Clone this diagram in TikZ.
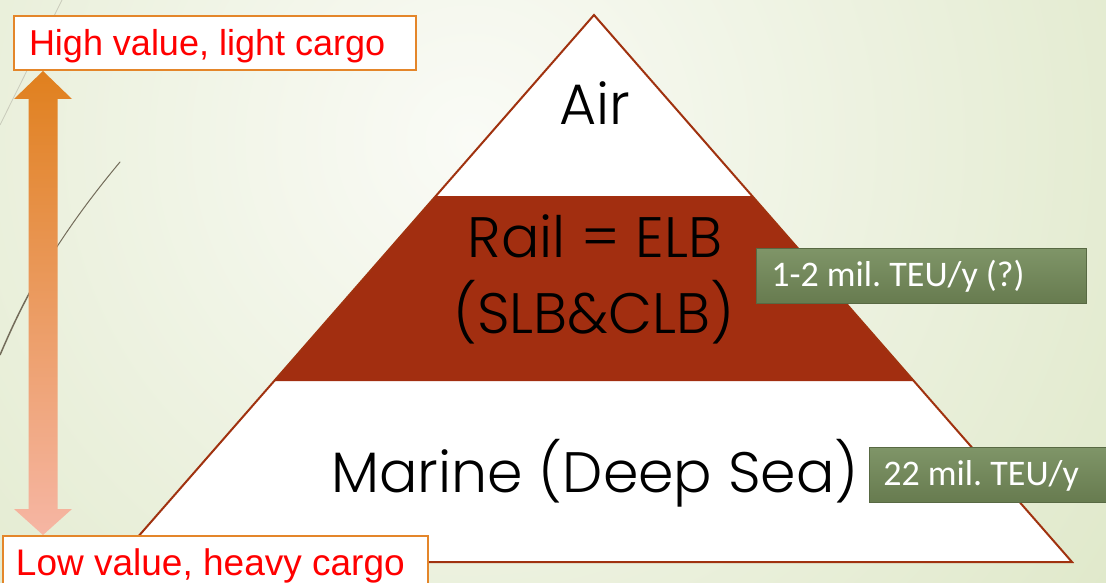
\documentclass[tikz,border=0pt]{standalone}
\usepackage{fontspec}
\setmainfont{Liberation Sans}
\newfontfamily\gothic{Poppins Light}
\newfontfamily\calib{Carlito}
\usetikzlibrary{calc}

\definecolor{bgin}{HTML}{FAFBF6}
\definecolor{bgout}{HTML}{DCE6C4}
\definecolor{rust}{HTML}{A22E10}
\definecolor{edgebrown}{HTML}{A0320F}
\definecolor{olivetop}{HTML}{7F9568}
\definecolor{olivebot}{HTML}{677B4F}
\definecolor{tagline}{HTML}{E4862A}
\definecolor{arrtop}{HTML}{E0801E}
\definecolor{arrbot}{HTML}{F6B6A4}
\definecolor{grass}{HTML}{736C5A}
\definecolor{grassfaint}{HTML}{C9CBBB}

\tikzset{
  tier/.style={font=\gothic\fontsize{57}{60}\selectfont, inner sep=0pt, text=black},
  tagbox/.style={top color=olivetop, bottom color=olivebot, draw=olivebot!85!black,
    line width=0.6pt, text=white, font=\calib\fontsize{36}{40}\selectfont,
    minimum height=55pt, text height=25.2pt, text depth=3.6pt,
    inner xsep=15pt, inner ysep=0pt},
  cargo/.style={draw=tagline, line width=2pt, fill=white, text=red,
    font=\fontsize{36}{40}\selectfont, text height=26pt}
}

\begin{document}
\begin{tikzpicture}[x=1pt, y=-1pt]
\useasboundingbox (0,0) rectangle (1106,583);

% soft background
\begin{scope}
  \clip (0,0) rectangle (1106,583);
  \shade[inner color=bgin, outer color=bgout] (470,140) circle (900);
\end{scope}

% grass blades
\draw[grassfaint, line width=0.8pt] (62,0) -- (0,125);
\draw[grass, line width=1.5pt] (0,355) .. controls (12,327) and (22,306) .. (36,281);
\draw[grass, line width=1pt, line cap=round] (36,281) .. controls (62,236) and (90,198) .. (120,162);

% pyramid
\coordinate (apex) at (594,15);
\coordinate (baseL) at (116,562);
\coordinate (baseR) at (1072,562);
\fill[white] (apex) -- (baseL) -- (baseR) -- cycle;
\fill[rust] (435.8,196) -- (752.2,196) -- (913.9,381) -- (274.1,381) -- cycle;
\draw[edgebrown, line width=2pt, line join=miter] (apex) -- (baseL) -- (baseR) -- cycle;

\node[tier, anchor=base] (air) at (595,125) {Air};
\node[tier, anchor=base] (rail) at (595,257) {Rail = ELB};
\node[tier, anchor=base] (slb) at (594,333) {(SLB\&CLB)};
\node[tier, anchor=base] (marine) at (595,492) {Marine (Deep Sea)};

% volume tags
\node[tagbox, anchor=north west] (teu1) at (756,248)
  {\makebox[300pt][l]{1-2 mil.\ TEU/y (?)}};
\node[tagbox, inner xsep=14pt, anchor=north west] (teu2) at (869,447)
  {\makebox[230pt][l]{22 mil.\ TEU/y}};

% value / weight scale
\node[cargo, anchor=north west, inner xsep=15pt, inner ysep=0pt,
      minimum height=54pt, text depth=0pt] (high) at (13,15)
  {\makebox[372pt][l]{High value, light cargo}};
\node[cargo, font=\fontsize{37}{40}\selectfont, text height=26.6pt,
      anchor=north west, inner xsep=13pt, inner ysep=12.5pt,
      text depth=11pt] (low) at (2,535)
  {\makebox[399pt][l]{Low value, heavy cargo}};

\coordinate (upTip) at ($(high.south west)+(30,0)$);
\coordinate (dnTip) at ($(low.north west)+(41,0)$);
\shade[top color=arrtop, bottom color=arrbot]
  (upTip) -- ++(29,28) -- ++(-14.5,0) -- ($(dnTip)+(14.5,-26)$) -- ++(14.5,0)
  -- (dnTip) -- ++(-29,-26) -- ++(14.5,0) -- ($(upTip)+(-14.5,28)$) -- ++(-14.5,0) -- cycle;
\end{tikzpicture}
\end{document}
